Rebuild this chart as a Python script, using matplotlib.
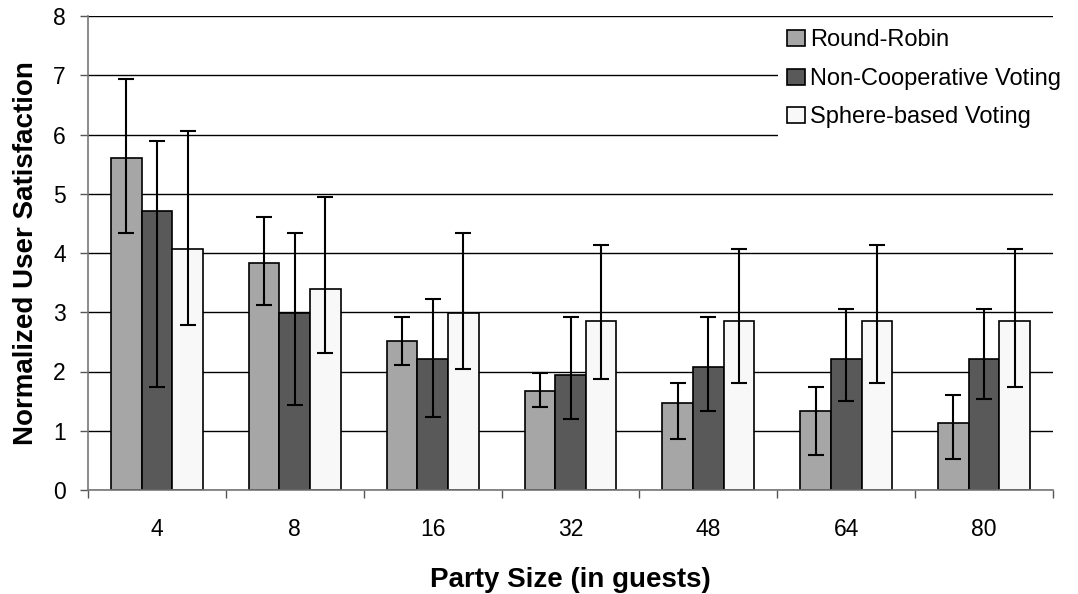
import matplotlib
matplotlib.use("Agg")
import matplotlib.pyplot as plt
import numpy as np

plt.rcParams['font.family'] = ['Liberation Sans', 'DejaVu Sans']

# party sizes (categories)
partySizes = ["4", "8", "16", "32", "48", "64", "80"]

# bar heights and error bar ends
roundRobin = [5.61, 3.83, 2.51, 1.67, 1.47, 1.33, 1.13]
roundRobinHigh = [6.93, 4.61, 2.92, 1.97, 1.81, 1.74, 1.60]
roundRobinLow = [4.33, 3.12, 2.11, 1.40, 0.86, 0.59, 0.52]

nonCoop = [4.71, 2.98, 2.21, 1.94, 2.08, 2.21, 2.21]
nonCoopHigh = [5.89, 4.33, 3.22, 2.92, 2.92, 3.05, 3.05]
nonCoopLow = [1.73, 1.43, 1.23, 1.20, 1.33, 1.50, 1.54]

sphere = [4.06, 3.39, 2.99, 2.85, 2.85, 2.85, 2.85]
sphereHigh = [6.06, 4.95, 4.33, 4.13, 4.07, 4.13, 4.07]
sphereLow = [2.78, 2.31, 2.04, 1.87, 1.81, 1.81, 1.74]

series = [
    ("Round-Robin", roundRobin, roundRobinHigh, roundRobinLow, "#a6a6a6"),
    ("Non-Cooperative Voting", nonCoop, nonCoopHigh, nonCoopLow, "#595959"),
    ("Sphere-based Voting", sphere, sphereHigh, sphereLow, "#f8f8f8"),
]

fig = plt.figure(figsize=(10.78, 5.94), dpi=100)
ax = fig.add_axes([88 / 1078, 1 - 490 / 594, (1053 - 88) / 1078, (490 - 16) / 594])

x = np.arange(len(partySizes))
barWidth = 0.222

for i, (name, vals, hi, lo, color) in enumerate(series):
    vals = np.array(vals)
    yerr = np.array([vals - np.array(lo), np.array(hi) - vals])
    ax.bar(x + (i - 1) * barWidth, vals, barWidth, color=color,
           edgecolor="black", linewidth=1.2, label=name, zorder=2)
    ax.errorbar(x + (i - 1) * barWidth, vals, yerr=yerr, fmt="none",
                ecolor="black", elinewidth=1.5, capsize=6, capthick=1.5,
                zorder=3)

# axes styling (Excel-like)
ax.set_xlim(-0.5, len(partySizes) - 0.5)
ax.set_ylim(0, 8)
ax.set_yticks(range(0, 9))
ax.yaxis.grid(True, color="black", linewidth=1)
ax.set_axisbelow(True)

# labels at category centres, ticks between categories
ax.set_xticks(x)
ax.set_xticklabels(partySizes)
ax.set_xticks(np.arange(-0.5, len(partySizes)), minor=True)
ax.tick_params(axis="x", which="major", length=0, pad=20, labelsize=16.5)
ax.tick_params(axis="x", which="minor", length=6, width=1, color="#555555")
ax.tick_params(axis="y", length=6, width=1, color="#555555", pad=10, labelsize=16.5)

for side in ["top", "right"]:
    ax.spines[side].set_visible(False)
for side in ["left", "bottom"]:
    ax.spines[side].set_color("#777777")
    ax.spines[side].set_linewidth(1.2)

ax.set_xlabel("Party Size (in guests)", fontsize=20, fontweight="bold", labelpad=19)
ax.set_ylabel("Normalized User Satisfaction", fontsize=20, fontweight="bold", labelpad=10)

fig.legend(loc="upper left", bbox_to_anchor=(778 / 1078, 1 - 20 / 594),
           fontsize=17, frameon=True, facecolor="white", edgecolor="none",
           framealpha=1, fancybox=False, borderpad=0.4, borderaxespad=0,
           handlelength=0.75, handleheight=0.65, handletextpad=0.2,
           labelspacing=0.7)

fig.savefig("out.png", dpi=100)
